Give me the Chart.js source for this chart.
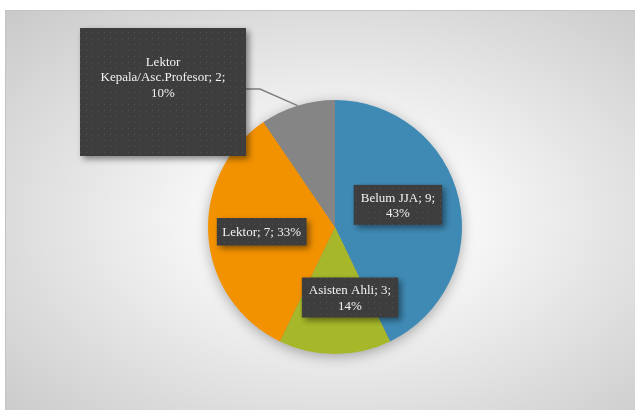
<!DOCTYPE html>
<html>
<head>
<meta charset="utf-8">
<script src="https://cdn.jsdelivr.net/npm/chart.js@4.4.1/dist/chart.umd.min.js"></script>
<style>
html, body { margin:0; padding:0; width:635px; height:410px; overflow:hidden; background:#fff; }
#frame { position:absolute; left:5px; top:10px; width:630px; height:400px; box-sizing:border-box;
  border-left:1px solid #c4c4c4; border-top:1px solid #c4c4c4;
  background: radial-gradient(farthest-corner at 53% 52%, #ffffff 0%, #f7f7f7 28%, #c9c9c9 100%); }
#wrap { position:absolute; left:0; top:0; width:635px; height:410px; }
</style>
</head>
<body>
<div id="frame"></div>
<div id="wrap"><canvas id="pie_jabatan"></canvas></div>
<script>
// data
var kategori = ['Belum JJA', 'Asisten Ahli', 'Lektor', 'Lektor Kepala/Asc.Profesor'];
var jumlah = [9, 3, 7, 2];
var persen = [43, 14, 33, 10];
var warna = ['#3F8AB5', '#A6B82A', '#F39200', '#858585'];

// label box layout (offsets from slice centre, wrap width)
var label_cfg = [
  { dx: 1, dy: -8, wrap: 82 },
  { dx: 15, dy: 7, wrap: 88 },
  { dx: -10, dy: 0, wrap: 95 },
  { outside: true, boxX: 80, boxY: 28, boxW: 166, boxH: 128, textDy: -15, wrap: 140 }
];

function make_pattern(ctx){
  var c = document.createElement('canvas');
  c.width = 6; c.height = 6;
  var p = c.getContext('2d');
  p.fillStyle = '#3d3d3d';
  p.fillRect(0, 0, 6, 6);
  p.fillStyle = '#525252';
  p.fillRect(2, 2, 1, 1);
  return ctx.createPattern(c, 'repeat');
}

function wrap_text(ctx, text, max){
  var words = text.split(' ');
  var lines = [];
  var line = '';
  for (var i in words){
    var test = line ? line + ' ' + words[i] : words[i];
    if (line && ctx.measureText(test).width > max){
      lines.push(line);
      line = words[i];
    } else {
      line = test;
    }
  }
  if (line) lines.push(line);
  return lines;
}

var sombra_pie = {
  id: 'sombra_pie',
  beforeDatasetsDraw: function(chart){
    var arc = chart.getDatasetMeta(0).data[0];
    if (!arc) return;
    var ctx = chart.ctx;
    ctx.save();
    ctx.shadowColor = 'rgba(0,0,0,0.35)';
    ctx.shadowBlur = 14;
    ctx.shadowOffsetY = 3;
    ctx.fillStyle = '#888';
    ctx.beginPath();
    ctx.arc(arc.x, arc.y, arc.outerRadius - 1, 0, Math.PI * 2);
    ctx.fill();
    ctx.restore();
  }
};

var etiquetas = {
  id: 'etiquetas',
  afterDatasetsDraw: function(chart){
    var ctx = chart.ctx;
    var arcs = chart.getDatasetMeta(0).data;
    var patron = make_pattern(ctx);
    var lh = 15.5;
    ctx.save();
    ctx.font = '13px "Liberation Serif", "Times New Roman", serif';
    for (var i = 0; i < arcs.length; i++){
      var arc = arcs[i];
      var cfg = label_cfg[i];
      var texto = kategori[i] + '; ' + jumlah[i] + '; ' + persen[i] + '%';
      var lines = wrap_text(ctx, texto, cfg.wrap);
      var bx, by, bw, bh, cx, cy;
      if (cfg.outside){
        bx = cfg.boxX; by = cfg.boxY; bw = cfg.boxW; bh = cfg.boxH;
        cx = bx + bw / 2; cy = by + bh / 2 + cfg.textDy;
        // leader line from outer edge of slice
        var mid = (arc.startAngle + arc.endAngle) / 2;
        var ex = arc.x + Math.cos(mid) * arc.outerRadius;
        var ey = arc.y + Math.sin(mid) * arc.outerRadius;
        ctx.strokeStyle = '#7f7f7f';
        ctx.lineWidth = 1.5;
        ctx.beginPath();
        ctx.moveTo(ex, ey);
        ctx.lineTo(bx + bw + 14, by + 61);
        ctx.lineTo(bx + bw, by + 61);
        ctx.stroke();
      } else {
        var p = arc.tooltipPosition();
        cx = p.x + cfg.dx; cy = p.y + cfg.dy;
        var tw = 0;
        for (var k in lines) tw = Math.max(tw, ctx.measureText(lines[k]).width);
        bw = tw + (lines.length > 1 ? 14 : 11);
        bh = lines.length * lh + (lines.length > 1 ? 9 : 12);
        bx = cx - bw / 2; by = cy - bh / 2;
      }
      ctx.save();
      ctx.shadowColor = 'rgba(0,0,0,0.45)';
      ctx.shadowBlur = 6;
      ctx.shadowOffsetX = 3;
      ctx.shadowOffsetY = 3;
      ctx.fillStyle = patron;
      ctx.fillRect(bx, by, bw, bh);
      ctx.restore();
      ctx.fillStyle = '#f2f2f2';
      ctx.textAlign = 'center';
      ctx.textBaseline = 'middle';
      var y0 = cy - (lines.length - 1) * lh / 2;
      for (var j = 0; j < lines.length; j++){
        ctx.fillText(lines[j], cx, y0 + j * lh + 1);
      }
    }
    ctx.restore();
  }
};

const ctx = document.getElementById('pie_jabatan');
new Chart(ctx, {
  type: 'pie',
  data: {
    labels: kategori,
    datasets: [{
      data: jumlah,
      backgroundColor: warna,
      borderWidth: 0
    }]
  },
  options: {
    responsive: true,
    maintainAspectRatio: false,
    animation: false,
    layout: { padding: { top: 100, bottom: 56, left: 35, right: 0 } },
    plugins: {
      legend: { display: false },
      tooltip: { enabled: false }
    }
  },
  plugins: [sombra_pie, etiquetas]
});
</script>
</body>
</html>
